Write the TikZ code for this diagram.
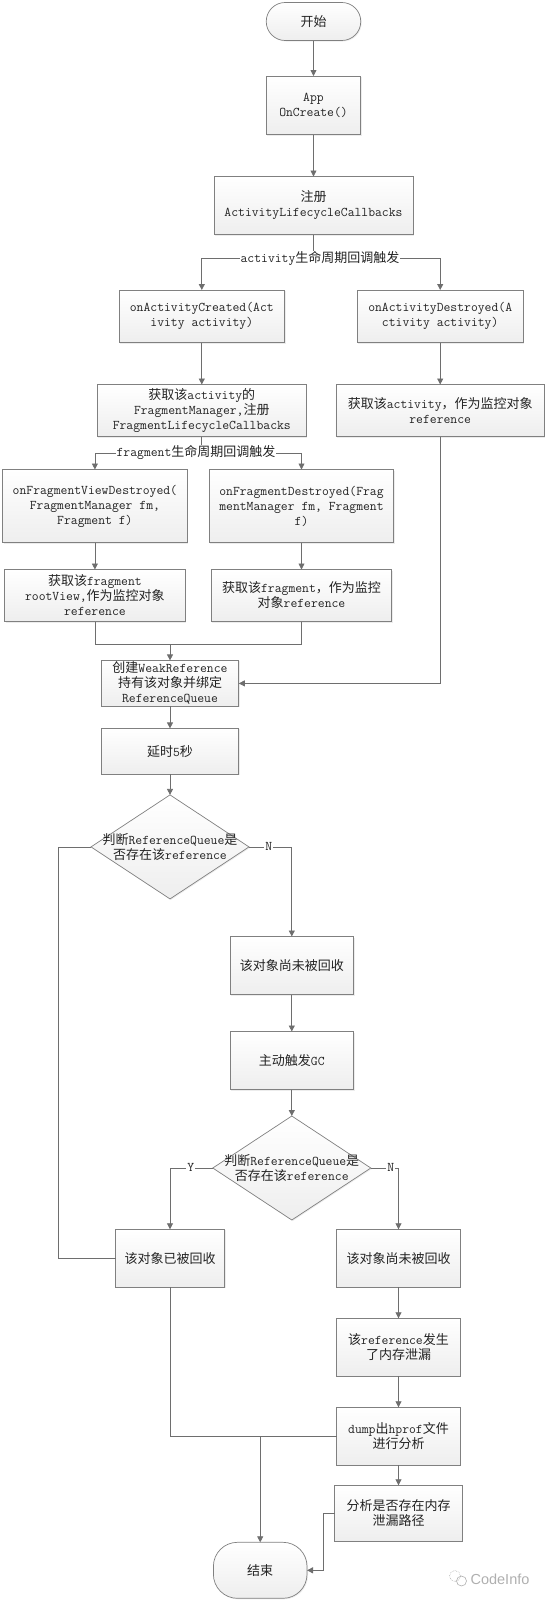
\documentclass[tikz,border=0pt]{standalone}
\usepackage{fontspec}
\usetikzlibrary{%
	arrows.meta,%
	positioning,%
	shadows,%
	shapes.geometric,%
}
\newfontfamily\hanzifont{Noto Sans CJK SC}
\newfontfamily\markfont{Liberation Sans}
\newcommand{\hanzi}[1]{{\hanzifont\fontsize{13}{15}\selectfont #1}}
\definecolor{cline}{RGB}{110, 110, 110}
\definecolor{cborder}{RGB}{128, 128, 128}
\definecolor{cfill}{RGB}{238, 238, 238}
\definecolor{ctext}{RGB}{35, 35, 35}
\definecolor{cmark}{RGB}{175, 175, 175}
\tikzset{
	>={Triangle[length=6pt,width=6pt]},%
	nodes={align=center},%
	boxnode/.style={%
			draw=cborder,%
			rectangle,%
			line width=.7pt,%
			outer sep=0,%
			inner sep=0,%
			text=ctext,%
			top color=white,%
			bottom color=cfill,%
			drop shadow={opacity=.15,shadow xshift=1pt,shadow yshift=-1pt},%
			font={\ttfamily\fontsize{13.3}{15}\selectfont}},%
	termnode/.style={%
			boxnode,%
			rounded corners=#1},%
	decidenode/.style={%
			boxnode,%
			diamond,%
			minimum width=158pt,%
			minimum height=104pt},%
	edgenode/.style={%
			fill=white,%
			inner xsep=1pt,%
			inner ysep=0,%
			text=ctext,%
			font={\ttfamily\fontsize{13.3}{15}\selectfont}},%
	link/.style={->,cline,line width=.8pt},%
	wire/.style={cline,line width=.8pt},%
}

\begin{document}
\begin{tikzpicture}[x=1pt,y=-1pt]%
	\useasboundingbox (0,0) rectangle (545,1601);

	\node[termnode=18.9pt, minimum width=94.5pt, minimum height=38pt] (start) at (313.5,21.5) {\hanzi{开始}};
	\node[boxnode, minimum width=94.5pt, minimum height=58.5pt, below=35.5pt of start] (app) {App\\OnCreate()};
	\node[boxnode, minimum width=198.8pt, minimum height=58pt, below=42pt of app] (register) {\hanzi{注册}\\ActivityLifecycleCallbacks};

	\node[boxnode, minimum width=165.6pt, minimum height=52.5pt] (actcreated) at (201.8,316.25) {onActivityCreated(Act\\ivity activity)};
	\node[boxnode, minimum width=165.6pt, minimum height=52.5pt, right=72.8pt of actcreated] (actdestroyed) {onActivityDestroyed(A\\ctivity activity)};
	\node[boxnode, minimum width=208.7pt, minimum height=52pt, below=42pt of actcreated] (fragmanager) {\hanzi{获取该}activity\hanzi{的}\\FragmentManager,\hanzi{注册}\\FragmentLifecycleCallbacks};
	\node[boxnode, minimum width=208.7pt, minimum height=52pt, below=42pt of actdestroyed] (getactivity) {\hanzi{获取该}activity\hanzi{，作为监控对象}\\reference};

	\node[boxnode, minimum width=184.6pt, minimum height=73pt] (viewdestroyed) at (94.9,506) {onFragmentViewDestroyed(\\FragmentManager fm,\\Fragment f)};
	\node[boxnode, minimum width=184.6pt, minimum height=73pt, right=22pt of viewdestroyed] (fragdestroyed) {onFragmentDestroyed(Frag\\mentManager fm, Fragment\\f)};
	\node[boxnode, minimum width=180.4pt, minimum height=52pt, below=27pt of viewdestroyed] (getview) {\hanzi{获取该}fragment\\rootView,\hanzi{作为监控对象}\\reference};
	\node[boxnode, minimum width=180.4pt, minimum height=52pt, below=27pt of fragdestroyed] (getfragment) {\hanzi{获取该}fragment\hanzi{，作为监控}\\\hanzi{对象}reference};

	\node[boxnode, minimum width=137.6pt, minimum height=46pt] (weakref) at (170,683.4) {\hanzi{创建}WeakReference\\\hanzi{持有该对象并绑定}\\ReferenceQueue};
	\node[boxnode, minimum width=137.6pt, minimum height=46pt, below=22pt of weakref] (delay) {\hanzi{延时}5\hanzi{秒}};
	\node[decidenode, below=20.5pt of delay, label={[edgenode, fill=none]center:{\hanzi{判断}ReferenceQueue\hanzi{是}\\\hanzi{否存在该}reference}}] (firstcheck) {};

	\node[boxnode, minimum width=123.5pt, minimum height=58pt] (alive) at (291.8,965.5) {\hanzi{该对象尚未被回收}};
	\node[boxnode, minimum width=123.5pt, minimum height=58pt, below=37pt of alive] (triggergc) {\hanzi{主动触发}GC};
	\node[decidenode, below=26.5pt of triggergc, label={[edgenode, fill=none]center:{\hanzi{判断}ReferenceQueue\hanzi{是}\\\hanzi{否存在该}reference}}] (secondcheck) {};

	\node[boxnode, minimum width=109pt, minimum height=58pt] (collected) at (170,1258.3) {\hanzi{该对象已被回收}};
	\node[boxnode, minimum width=123.5pt, minimum height=58pt] (stillalive) at (398.5,1258.3) {\hanzi{该对象尚未被回收}};
	\node[boxnode, minimum width=123.5pt, minimum height=58pt, below=31pt of stillalive] (leak) {\hanzi{该}reference\hanzi{发生}\\\hanzi{了内存泄漏}};
	\node[boxnode, minimum width=123.5pt, minimum height=58pt, below=31pt of leak] (dump) {dump\hanzi{出}hprof\hanzi{文件}\\\hanzi{进行分析}};
	\node[boxnode, minimum width=127.6pt, minimum height=56pt, below=20pt of dump] (analyze) {\hanzi{分析是否存在内存}\\\hanzi{泄漏路径}};
	\node[termnode=24pt, minimum width=93.6pt, minimum height=56pt] (finish) at (260.2,1570.3) {\hanzi{结束}};

	\coordinate (actsplit) at (313.5,258);
	\coordinate (fragsplit) at (201.8,453);
	\coordinate (fragmerge) at (170,644.3);
	\coordinate (loopleft) at (58.6,1258.3);
	\coordinate (finishjoin) at (finish.north |- dump.west);
	\coordinate (finishelbow) at (323.2,1570.3);

	\draw[link] (start) -- (app);
	\draw[link] (app) -- (register);
	\draw[wire] (register) -- (actsplit);
	\draw[link] (actsplit) -| (actcreated);
	\draw[link] (actsplit) -| (actdestroyed);
	\draw[link] (actcreated) -- (fragmanager);
	\draw[link] (actdestroyed) -- (getactivity);
	\draw[wire] (fragmanager) -- (fragsplit);
	\draw[link] (fragsplit) -| (viewdestroyed);
	\draw[link] (fragsplit) -| (fragdestroyed);
	\draw[link] (viewdestroyed) -- (getview);
	\draw[link] (fragdestroyed) -- (getfragment);
	\draw[wire] (getview) |- (fragmerge);
	\draw[wire] (getfragment) |- (fragmerge);
	\draw[link] (fragmerge) -- (weakref);
	\draw[link] (getactivity) |- (weakref);
	\draw[link] (weakref) -- (delay);
	\draw[link] (delay) -- (firstcheck);
	\draw[wire] (firstcheck.west) -| (loopleft) -- (collected);
	\draw[link] (firstcheck.east) -| (alive);
	\draw[link] (alive) -- (triggergc);
	\draw[link] (triggergc) -- (secondcheck);
	\draw[link] (secondcheck.west) -| (collected);
	\draw[link] (secondcheck.east) -| (stillalive);
	\draw[link] (stillalive) -- (leak);
	\draw[link] (leak) -- (dump);
	\draw[link] (dump) -- (analyze);
	\draw[wire] (collected) |- (dump);
	\draw[link] (finishjoin) -- (finish);
	\draw[link] (analyze) -| (finishelbow) -- (finish);

	\node[edgenode] (actlabel) at (320,258) {activity\hanzi{生命周期回调触发}};
	\node[edgenode] (fraglabel) at (196,452) {fragment\hanzi{生命周期回调触发}};
	\node[edgenode] (firstno) at (268.8,846.5) {N};
	\node[edgenode] (secondyes) at (190.9,1167.5) {Y};
	\node[edgenode] (secondno) at (390.7,1167.5) {N};

	\draw[cmark, line width=.6pt, densely dotted] (455,1576) circle (5.5pt);
	\draw[cmark, line width=.6pt] (461.5,1581) circle (5pt);
	\node[text=cmark, font={\markfont\fontsize{14.5}{15}\selectfont}] (codeinfo) at (500,1579) {CodeInfo};
\end{tikzpicture}
\end{document}
